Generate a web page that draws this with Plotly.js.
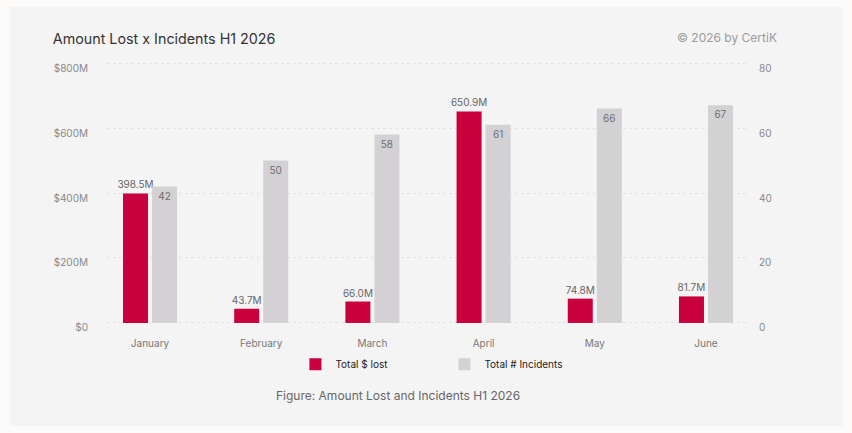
<!DOCTYPE html>
<html>
<head>
<meta charset="utf-8">
<script src="https://cdn.plot.ly/plotly-3.0.1.min.js"></script>
<style>
  html, body { margin: 0; padding: 0; background: #fdfbf9; }
  #panel { position: absolute; left: 10px; top: 7px; width: 833px; height: 419px; background: #f5f4f5; }
  #chart { position: absolute; left: 0; top: 0; width: 852px; height: 433px; }
</style>
</head>
<body>
<div id="panel"></div>
<div id="chart"></div>
<script>
// months on the x axis
const months = ['January', 'February', 'March', 'April', 'May', 'June'];
// amount lost, in millions of dollars
const amountLost = [398.5, 43.7, 66.0, 650.9, 74.8, 81.7];
// number of incidents
const incidents = [42, 50, 58, 61, 66, 67];
const lostTicks = [0, 200, 400, 600, 800];
const lostTickText = ['$0', '$200M', '$400M', '$600M', '$800M'];
const incidentTicks = [0, 20, 40, 60, 80];

const font = 'Inter, "Noto Sans", sans-serif';

const lostTrace = {
    x: months,
    y: amountLost,
    type: 'bar',
    name: 'Total $ lost',
    marker: { color: '#c8003d' },
    text: amountLost.map(v => v.toFixed(1) + 'M'),
    textposition: 'outside',
    constraintext: 'none',
    textfont: { size: 10, color: '#666666', family: font },
    cliponaxis: false,
    offsetgroup: 'a',
    hoverinfo: 'skip'
};

const incidentTrace = {
    x: months,
    y: incidents,
    type: 'bar',
    name: 'Total # Incidents',
    yaxis: 'y2',
    marker: { color: '#d3d1d4' },
    text: incidents.map(String),
    textposition: 'inside',
    insidetextanchor: 'end',
    constraintext: 'none',
    textangle: 0,
    textfont: { size: 10, color: '#6e6e6e', family: font },
    offsetgroup: 'b',
    hoverinfo: 'skip'
};

// small padding so the gridlines at 0 and at the top are drawn
const pad = 0.004;

const layout = {
    width: 852,
    height: 433,
    margin: { l: 107, r: 103, t: 62, b: 109 },
    paper_bgcolor: 'rgba(0,0,0,0)',
    plot_bgcolor: 'rgba(0,0,0,0)',
    font: { family: font, color: '#888888', size: 10 },
    title: {
        text: 'Amount Lost x Incidents H1 2026',
        font: { size: 14.3, color: '#333333', family: font },
        x: 0.062, xref: 'container', xanchor: 'left',
        y: 0.91, yref: 'container', yanchor: 'middle'
    },
    barmode: 'group',
    bargap: 0.478,
    bargroupgap: 0.138,
    showlegend: true,
    legend: {
        orientation: 'h',
        x: 0.2935, xanchor: 'left',
        y: -0.154, yanchor: 'middle',
        font: { size: 10, color: '#222222', family: font },
        entrywidth: 104,
        bgcolor: 'rgba(0,0,0,0)'
    },
    xaxis: {
        type: 'category',
        range: [-0.387, 5.387],
        showgrid: false,
        zeroline: false,
        showline: false,
        ticks: '',
        tickfont: { size: 10, color: '#777777' },
        ticklabelstandoff: 12
    },
    yaxis: {
        range: [-800 * pad, 800 * (1 + pad)],
        tickvals: lostTicks,
        ticktext: lostTickText,
        showgrid: true,
        gridcolor: '#e3e1e3',
        griddash: '3px,3px',
        gridwidth: 1,
        zeroline: false,
        showline: false,
        ticks: '',
        tickfont: { size: 10, color: '#888888' },
        ticklabelstandoff: 18,
        ticklabelshift: 5
    },
    yaxis2: {
        range: [-80 * pad, 80 * (1 + pad)],
        tickvals: incidentTicks,
        overlaying: 'y',
        side: 'right',
        showgrid: false,
        zeroline: false,
        showline: false,
        ticks: '',
        tickfont: { size: 10, color: '#888888' },
        ticklabelstandoff: 9,
        ticklabelshift: 5
    },
    annotations: [
        {
            text: '© 2026 by CertiK',
            xref: 'paper', yref: 'paper',
            x: 1.047, y: 1.092,
            xanchor: 'right', yanchor: 'middle',
            showarrow: false,
            font: { size: 12, color: '#9a9a9a', family: font }
        },
        {
            text: 'Figure: Amount Lost and Incidents H1 2026',
            xref: 'paper', yref: 'paper',
            x: 0.4525, y: -0.272,
            xanchor: 'center', yanchor: 'middle',
            showarrow: false,
            font: { size: 12, color: '#666666', family: font }
        }
    ]
};

Plotly.newPlot('chart', [lostTrace, incidentTrace], layout, { displayModeBar: false, staticPlot: true });
</script>
</body>
</html>
